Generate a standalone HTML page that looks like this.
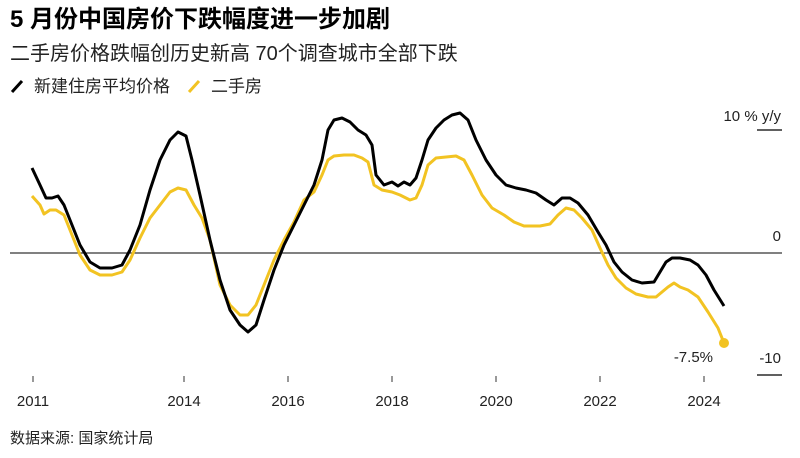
<!DOCTYPE html>
<html><head><meta charset="utf-8"><style>
body{margin:0;background:#fff;}
svg{display:block;font-family:"Liberation Sans","Noto Sans CJK SC",sans-serif;}
</style></head><body>
<svg width="800" height="458" viewBox="0 0 800 458" xmlns="http://www.w3.org/2000/svg">
<text x="10" y="27" font-size="24" font-weight="bold" fill="#000">5 月份中国房价下跌幅度进一步加剧</text>
<text x="10" y="60" font-size="20" fill="#222">二手房价格跌幅创历史新高 70个调查城市全部下跌</text>
<line x1="12" y1="92" x2="22" y2="81" stroke="#000" stroke-width="3"/>
<text x="34" y="92" font-size="17" fill="#222">新建住房平均价格</text>
<line x1="189" y1="92" x2="199" y2="81" stroke="#f2c322" stroke-width="3"/>
<text x="211" y="92" font-size="17" fill="#222">二手房</text>
<line x1="10" y1="253" x2="782" y2="253" stroke="#000" stroke-width="1"/>
<text x="781" y="121" font-size="15" fill="#222" text-anchor="end">10 % y/y</text>
<line x1="757" y1="130" x2="782" y2="130" stroke="#000" stroke-width="1.2"/>
<text x="781" y="241" font-size="15" fill="#222" text-anchor="end">0</text>
<text x="781" y="363" font-size="15" fill="#222" text-anchor="end">-10</text>
<line x1="757" y1="375" x2="782" y2="375" stroke="#000" stroke-width="1.2"/>
<g stroke="#333" stroke-width="1">
<line x1="33" y1="376" x2="33" y2="382"/><line x1="184" y1="376" x2="184" y2="382"/><line x1="288" y1="376" x2="288" y2="382"/><line x1="392" y1="376" x2="392" y2="382"/><line x1="496" y1="376" x2="496" y2="382"/><line x1="600" y1="376" x2="600" y2="382"/><line x1="704" y1="376" x2="704" y2="382"/>
</g>
<g font-size="15" fill="#222" text-anchor="middle">
<text x="33" y="406">2011</text><text x="184" y="406">2014</text><text x="288" y="406">2016</text><text x="392" y="406">2018</text><text x="496" y="406">2020</text><text x="600" y="406">2022</text><text x="704" y="406">2024</text>
</g>
<text x="10" y="443" font-size="15" fill="#222">数据来源:  国家统计局</text>
<polyline fill="none" stroke="#f2c322" stroke-width="3" stroke-linejoin="round" points="32,196 40,205 44,214 50,210 56,210 64,215 72,235 80,255 90,270 100,275 112,275 122,272 130,260 140,238 150,218 160,205 170,192 178,188 186,190 194,205 202,218 210,240 220,285 230,305 240,315 248,315 256,305 264,285 274,260 284,240 294,222 304,200 314,192 322,175 328,160 334,156 344,155 354,155 362,158 368,162 374,185 382,190 392,192 400,195 410,200 416,198 422,185 428,165 436,158 446,157 456,156 464,160 472,175 482,195 492,208 504,215 514,222 524,226 540,226 550,224 558,215 566,208 574,210 582,218 592,230 600,248 608,265 616,278 626,288 636,294 648,297 656,297 662,292 668,287 674,283 680,287 688,290 698,297 708,312 718,328 724,343"/>
<circle cx="724" cy="343" r="5" fill="#f2c322"/>
<polyline fill="none" stroke="#000" stroke-width="3" stroke-linejoin="round" points="32,168 40,185 46,198 52,198 58,196 64,205 72,225 80,245 90,262 100,268 112,268 122,265 130,250 140,225 150,190 160,160 170,140 178,132 186,136 192,160 200,195 210,240 220,280 230,310 240,325 248,332 256,325 264,300 274,270 284,245 294,225 304,205 314,185 322,160 328,130 334,120 342,118 350,122 358,130 366,135 372,145 376,175 384,185 392,182 398,186 404,182 410,185 416,178 422,160 428,140 436,128 444,120 452,115 460,113 468,120 476,140 486,160 496,175 506,185 516,188 526,190 536,193 546,200 554,205 562,198 570,198 578,203 588,215 598,232 606,245 614,262 622,272 632,280 642,283 654,282 660,272 666,262 672,258 680,258 690,260 698,265 706,275 714,290 724,306"/>
<text x="713" y="362" font-size="15" fill="#222" text-anchor="end">-7.5%</text>
</svg>
</body></html>
